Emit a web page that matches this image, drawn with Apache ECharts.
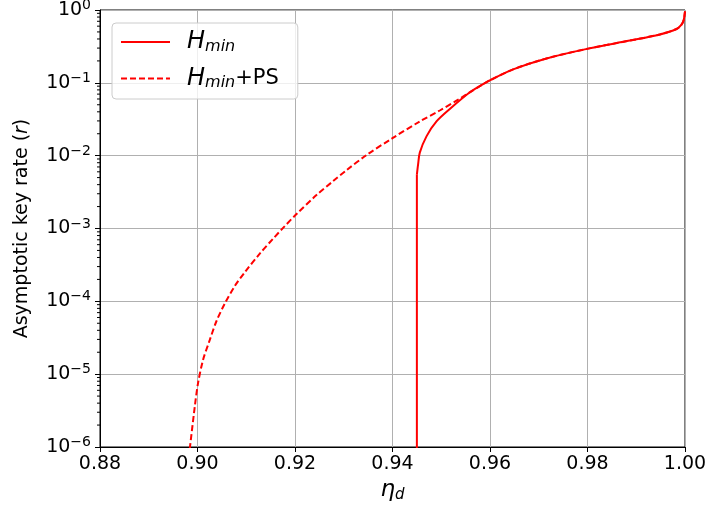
<!DOCTYPE html>
<html>
<head>
<meta charset="utf-8">
<script src="https://cdn.jsdelivr.net/npm/echarts@6/dist/echarts.min.js"></script>
<style>
  html, body { margin: 0; padding: 0; background: #fff; }
  #chart { width: 711px; height: 510px; }
</style>
</head>
<body>
<div id="chart"></div>
<script>
// Asymptotic key rate r versus detection efficiency eta_d (log scale)
const xTicks = [0.88, 0.90, 0.92, 0.94, 0.96, 0.98, 1.00];
const yDecades = [-6, -5, -4, -3, -2, -1, 0];

// H_min: rate vanishes below eta_d ~ 0.945
const hminVertical = [
  [0.945, 1e-7],
  [0.945, 5.5e-3]
];
const hminHead = [
  [0.945, 5.5e-3],
  [0.94525, 7.59e-3],
  [0.9456, 0.0110],
  [0.94697, 0.0184],
  [0.94902, 0.0295],
  [0.95175, 0.0437]
];

// H_min + PS: extends down to eta_d ~ 0.898
const hminPsHead = [
  [0.8982, 7.1e-7],
  [0.89945, 3.63e-6],
  [0.90012, 7.59e-6],
  [0.90115, 1.58e-5],
  [0.90252, 2.95e-5],
  [0.90390, 5.37e-5],
  [0.90560, 9.33e-5],
  [0.90765, 1.62e-4],
  [0.90970, 2.51e-4],
  [0.91278, 4.52e-4],
  [0.91551, 7.24e-4],
  [0.91756, 1.02e-3],
  [0.92031, 1.58e-3],
  [0.92441, 2.88e-3],
  [0.92782, 4.47e-3],
  [0.93056, 6.31e-3],
  [0.93467, 0.0102],
  [0.94000, 0.0174],
  [0.94560, 0.0295],
  [0.94970, 0.0417],
  [0.95313, 0.0569],
  [0.95400, 0.0617]
];

// common branch where both curves coincide
const sharedTail = [
  [0.95586, 0.0741],
  [0.95791, 0.0902],
  [0.95996, 0.108],
  [0.96474, 0.153],
  [0.97159, 0.216],
  [0.98013, 0.295],
  [0.98868, 0.380],
  [0.99483, 0.462],
  [0.99826, 0.548],
  [0.99928, 0.628],
  [0.99975, 0.736],
  [1.00, 0.955]
];

const hminData = hminHead.concat(sharedTail);
const hminPsData = hminPsHead.concat(sharedTail);

// minor ticks at 2..9 x 10^k on the log axis
const minorTickValues = [];
for (let k = -6; k < 0; k++) {
  for (let m = 2; m <= 9; m++) minorTickValues.push(m * Math.pow(10, k));
}

const FONT = 'DejaVu Sans';
const RED = '#ff0000';

const chart = echarts.init(document.getElementById('chart'), null, { renderer: 'canvas' });

chart.setOption({
  animation: false,
  backgroundColor: '#fff',
  textStyle: { fontFamily: FONT },
  grid: {
    left: 100, right: 26, top: 10, bottom: 63,
    containLabel: false,
    outerBoundsMode: 'none',
    show: true,
    borderColor: '#000',
    borderWidth: 1
  },
  legend: {
    data: ['Hmin', 'Hmin+PS'],
    orient: 'vertical',
    left: 112,
    top: 23,
    padding: [7, 19, 8, 8],
    itemGap: 12,
    itemWidth: 49,
    itemHeight: 14,
    backgroundColor: 'rgba(255,255,255,0.8)',
    borderColor: '#cccccc',
    borderWidth: 1,
    borderRadius: 4,
    itemStyle: { opacity: 0 },
    formatter: function (name) {
      return name === 'Hmin'
        ? '{h|H}{s|min}'
        : '{h|H}{s|min}{t|+PS}';
    },
    textStyle: {
      fontFamily: FONT,
      color: '#000',
      rich: {
        h: { fontFamily: FONT, fontStyle: 'italic', fontSize: 24, color: '#000', padding: [0, 0, 0, 12] },
        s: { fontFamily: FONT, fontStyle: 'italic', fontSize: 16, color: '#000', padding: [9, 0, 0, 0] },
        t: { fontFamily: FONT, fontSize: 21, color: '#000' }
      }
    }
  },
  xAxis: {
    type: 'value',
    min: 0.88,
    max: 1.00,
    interval: 0.02,
    name: '{e|η}{d|d}',
    nameLocation: 'middle',
    nameGap: 31,
    nameTextStyle: {
      rich: {
        e: { fontFamily: FONT, fontStyle: 'italic', fontSize: 23, color: '#000' },
        d: { fontFamily: FONT, fontStyle: 'italic', fontSize: 15, color: '#000', padding: [9, 0, 0, 0] }
      }
    },
    axisLine: { show: true, onZero: false, lineStyle: { color: '#000', width: 1 } },
    axisTick: { show: true, inside: false, length: 5, lineStyle: { color: '#000', width: 1 } },
    axisLabel: {
      fontFamily: FONT, fontSize: 19, color: '#000', margin: 8,
      formatter: function (v) { return v.toFixed(2); }
    },
    splitLine: { show: true, lineStyle: { color: '#b0b0b0', width: 1 } }
  },
  yAxis: {
    type: 'log',
    logBase: 10,
    min: 1e-6,
    max: 1,
    interval: 1,
    name: '{a|Asymptotic key rate (}{r|r}{a|)}',
    nameLocation: 'middle',
    nameRotate: 90,
    nameGap: 68,
    nameTextStyle: {
      rich: {
        a: { fontFamily: FONT, fontSize: 19, color: '#000' },
        r: { fontFamily: FONT, fontStyle: 'italic', fontSize: 19, color: '#000' }
      }
    },
    axisLine: { show: true, lineStyle: { color: '#000', width: 1 } },
    axisTick: { show: true, inside: false, length: 5, lineStyle: { color: '#000', width: 1 } },
    minorTick: { show: false },
    axisLabel: {
      margin: 9,
      formatter: function (v) {
        const e = Math.round(Math.log10(v));
        const ex = e < 0 ? '\u2212' + (-e) : String(e);
        return '{b|10}{p|' + ex + '}';
      },
      rich: {
        b: { fontFamily: FONT, fontSize: 19, color: '#000' },
        p: { fontFamily: FONT, fontSize: 14, color: '#000', padding: [0, 0, 9, 0] }
      }
    },
    splitLine: { show: true, lineStyle: { color: '#b0b0b0', width: 1 } }
  },
  series: [
    {
      name: 'Hmin',
      type: 'line',
      data: hminData,
      symbol: 'none',
      showSymbol: false,
      smooth: 0.3,
      clip: true,
      lineStyle: { color: RED, width: 2, type: 'solid' },
      itemStyle: { color: RED },
      z: 3
    },
    {
      // vertical drop of the H_min curve at its threshold
      name: 'Hmin',
      type: 'line',
      data: hminVertical,
      symbol: 'none',
      showSymbol: false,
      clip: true,
      lineStyle: { color: RED, width: 2, type: 'solid' },
      itemStyle: { color: RED },
      z: 3
    },
    {
      name: 'Hmin+PS',
      type: 'line',
      data: hminPsData,
      symbol: 'none',
      showSymbol: false,
      smooth: 0.3,
      clip: true,
      lineStyle: { color: RED, width: 2, type: [6, 3] },
      itemStyle: { color: RED },
      z: 4
    },
    {
      name: 'minorTicks',
      type: 'custom',
      silent: true,
      clip: false,
      data: minorTickValues.map(function (v) { return [0.88, v]; }),
      renderItem: function (params, api) {
        const p = api.coord([api.value(0), api.value(1)]);
        return {
          type: 'line',
          shape: { x1: p[0] - 3, y1: p[1], x2: p[0], y2: p[1] },
          style: { stroke: '#000', lineWidth: 1 }
        };
      },
      z: 5
    }
  ]
});
</script>
</body>
</html>
